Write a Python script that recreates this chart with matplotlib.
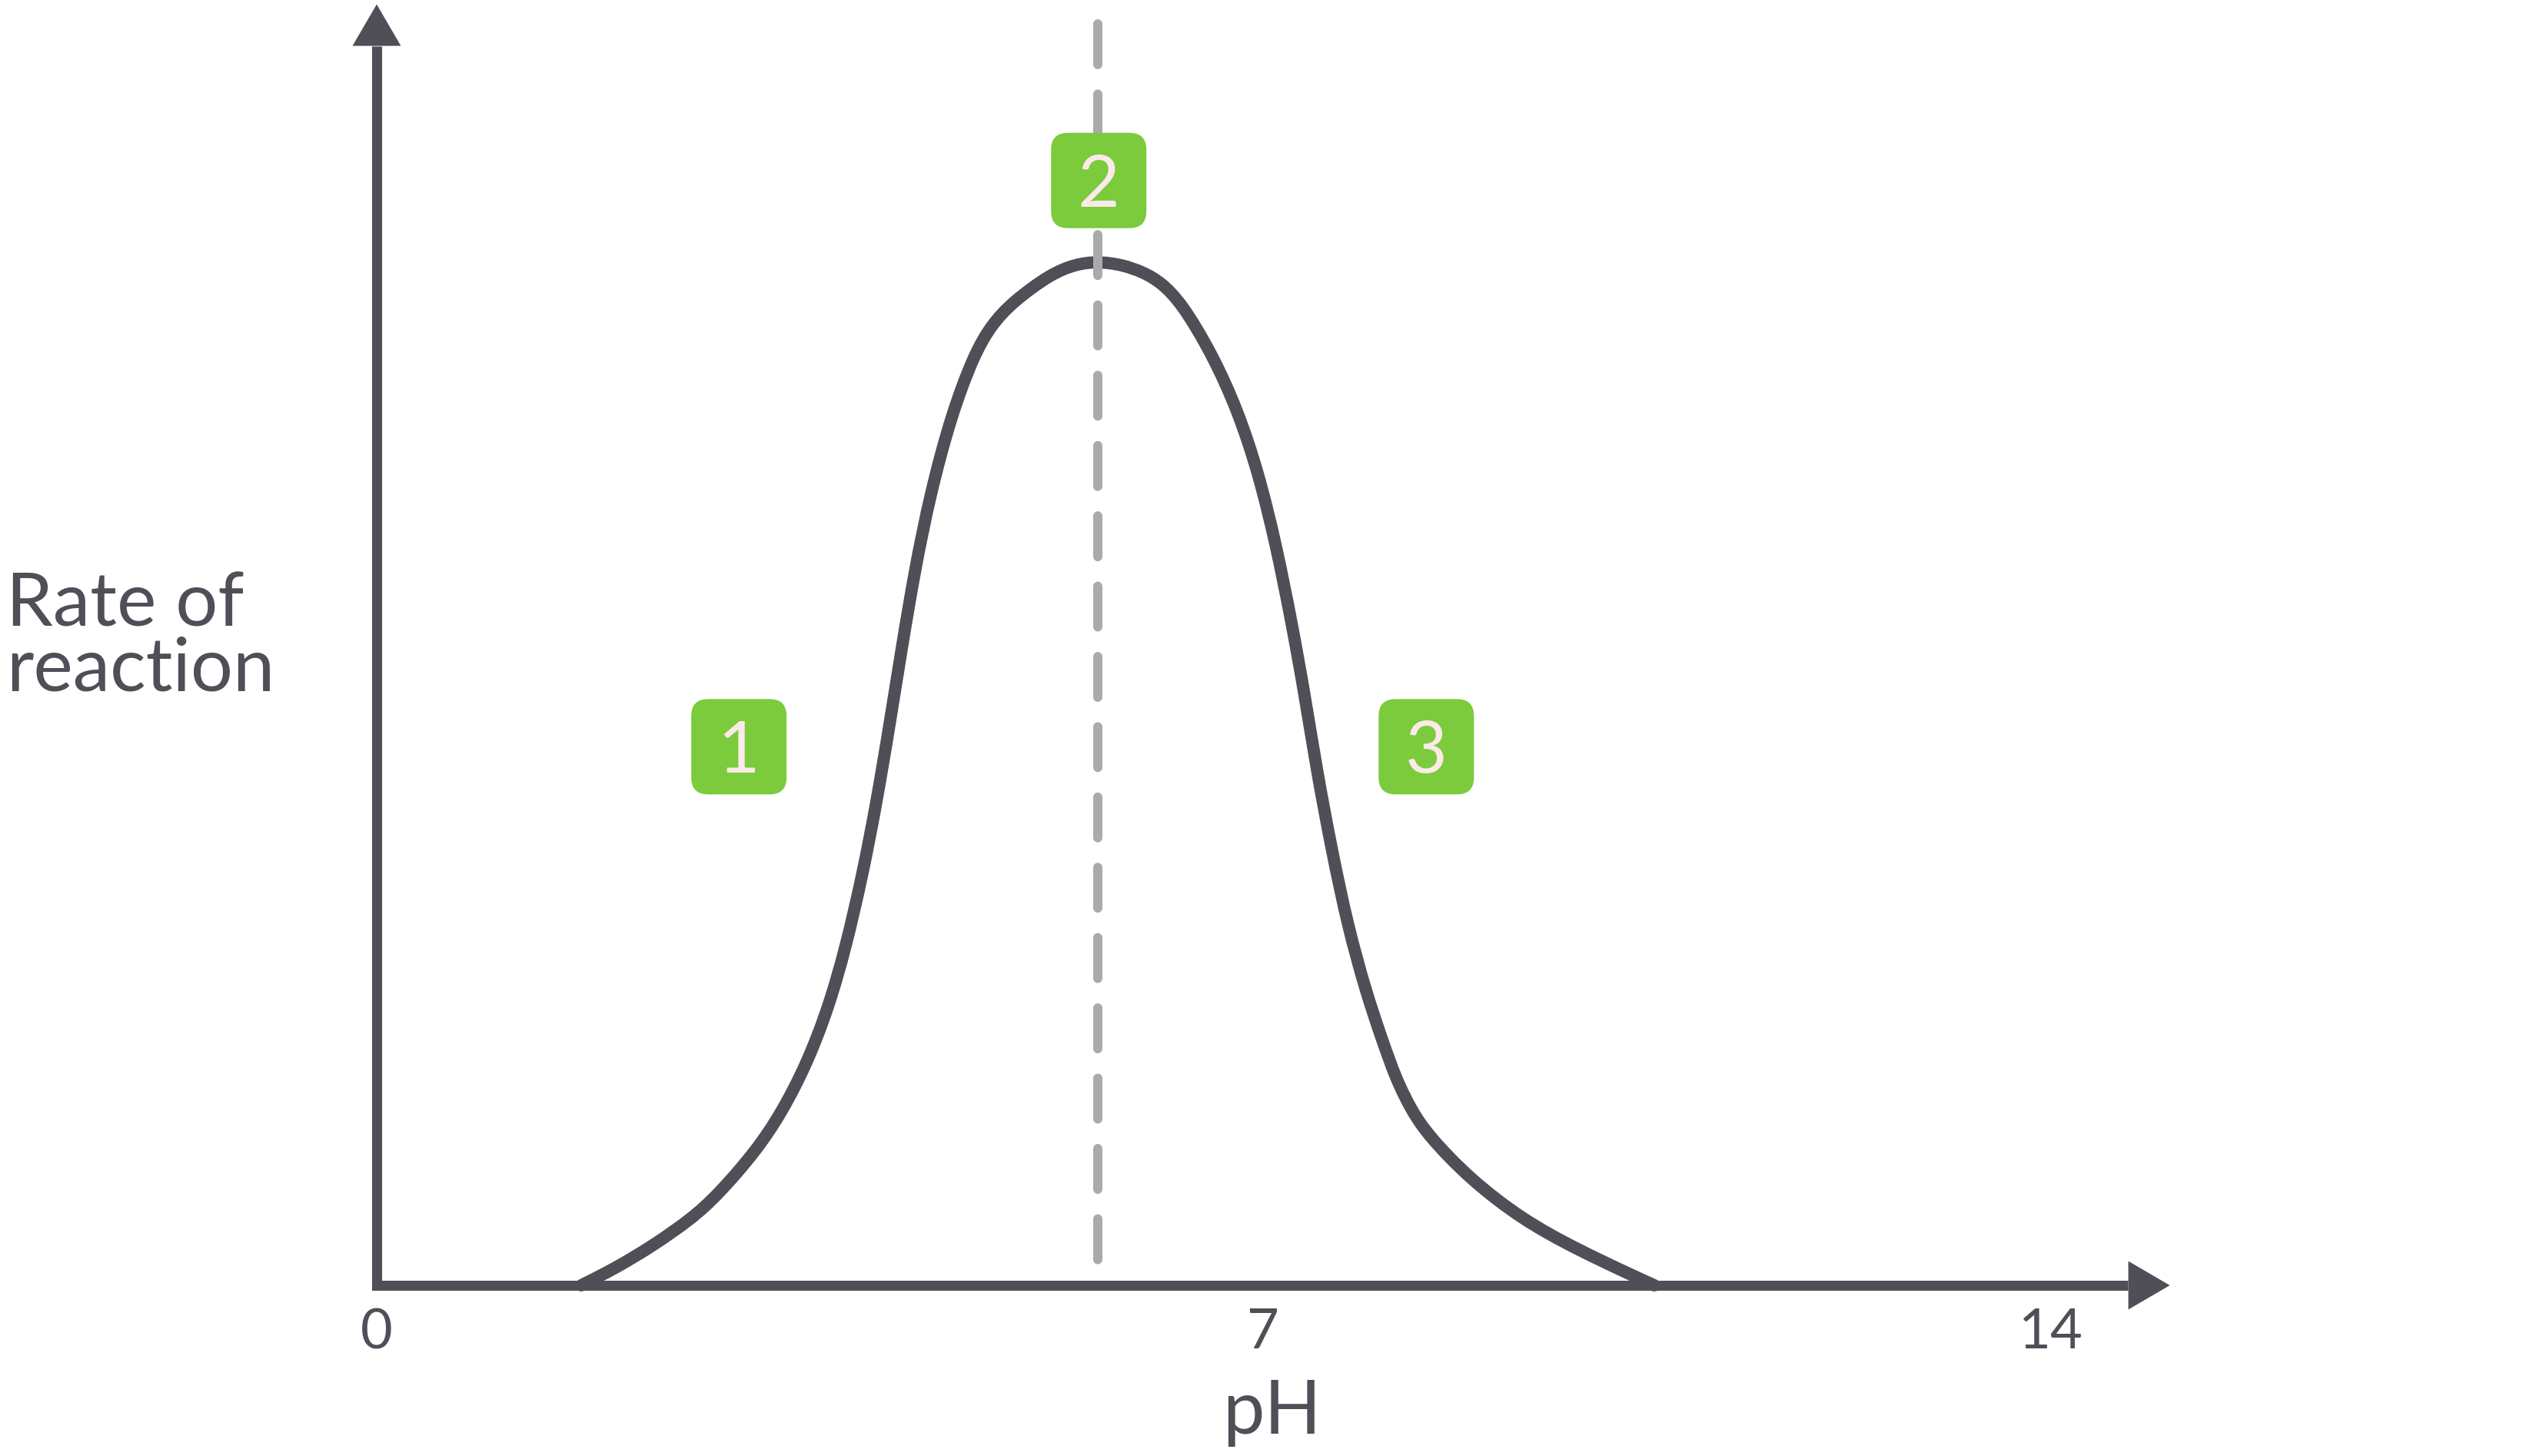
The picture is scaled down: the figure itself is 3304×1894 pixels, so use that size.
import matplotlib.pyplot as plt
from matplotlib.patches import FancyBboxPatch, PathPatch
from matplotlib.path import Path
from matplotlib.transforms import ScaledTranslation

plt.rcParams['font.family'] = ['Lato', 'DejaVu Sans']

# curve (pH, rate in % of optimum)
ph_curve = [1.711, 1.994, 2.315, 2.637, 2.849, 3.170, 3.389, 3.601, 3.781, 3.923,
            4.064, 4.180, 4.289, 4.392, 4.502, 4.630, 4.804, 4.997, 5.145, 5.318,
            5.640, 5.852, 6.032,
            6.238, 6.412, 6.559, 6.733, 6.990, 7.203, 7.376, 7.524, 7.653, 7.762,
            7.865, 7.987, 8.122, 8.277, 8.405, 8.527, 8.662, 8.797, 9.138, 9.588,
            10.039, 10.489, 10.688]
rate_curve = [0.0, 1.65, 3.90, 6.53, 8.78, 13.06, 16.89, 21.70, 27.18, 32.96,
              40.09, 47.07, 54.65, 62.24, 69.89, 77.25, 84.91, 90.92, 93.84, 96.02,
              98.80, 99.74, 100.0,
              99.67, 98.95, 97.97, 95.95, 90.92, 85.44, 79.35, 72.30, 64.79, 57.73,
              50.23, 42.64, 35.14, 28.60, 24.17, 20.12, 16.97, 14.64, 10.44, 6.38,
              3.53, 1.05, 0.0]

optimum_ph = 6.03
tick_pos = [0, 7.41, 14]
tick_labels = ['0', '7', '14']
badge_labels = ['1', '2', '3']
badge_x = [3.03, 6.04, 8.78]
badge_y = [52.6, 107.9, 52.6]

dark = '#504F57'
green = '#7BCB3C'
dash_grey = '#AAAAAA'
badge_text = '#FCEAEA'


def smooth_path(xs, ys):
    # clamped cubic B-spline over the read points, written as Bezier segments
    pts = list(zip(xs, ys))
    pts = [pts[0]] * 2 + pts + [pts[-1]] * 2
    verts = []
    codes = []
    for i in range(len(pts) - 3):
        p0, p1, p2, p3 = pts[i:i + 4]
        b0 = ((p0[0] + 4 * p1[0] + p2[0]) / 6, (p0[1] + 4 * p1[1] + p2[1]) / 6)
        b1 = ((2 * p1[0] + p2[0]) / 3, (2 * p1[1] + p2[1]) / 3)
        b2 = ((p1[0] + 2 * p2[0]) / 3, (p1[1] + 2 * p2[1]) / 3)
        b3 = ((p1[0] + 4 * p2[0] + p3[0]) / 6, (p1[1] + 4 * p2[1] + p3[1]) / 6)
        if not verts:
            verts.append(b0)
            codes.append(Path.MOVETO)
        verts += [b1, b2, b3]
        codes += [Path.CURVE4] * 3
    return Path(verts, codes)


W, H = 3305, 1894
fig = plt.figure(figsize=(W / 100, H / 100), dpi=100)
ax = fig.add_axes([490 / W, (H - 1672) / H, (2667 - 490) / W, (1672 - 340) / H])
ax.set_xlim(0, 14)
ax.set_ylim(0, 100)
ax.axis('off')

px_x = (2667 - 490) / 14      # pixels per pH unit
px_y = (1672 - 340) / 100     # pixels per rate unit

# axes with arrow heads
x_end, y_end = 15.0, 125.1
head_len, head_half = 54, 31.5
ax.plot([0, 0, x_end - head_len / px_x], [y_end - head_len / px_y, 0, 0],
        color=dark, lw=9.4, solid_joinstyle='miter', solid_capstyle='butt',
        clip_on=False, zorder=3)
ax.fill([x_end, x_end - head_len / px_x, x_end - head_len / px_x],
        [0, head_half / px_y, -head_half / px_y], color=dark, lw=0, clip_on=False, zorder=3)
ax.fill([0, -head_half / px_x, head_half / px_x],
        [y_end, y_end - head_len / px_y, y_end - head_len / px_y], color=dark, lw=0,
        clip_on=False, zorder=3)

# rate curve
curve = PathPatch(smooth_path(ph_curve, rate_curve), fc='none', ec=dark, lw=11.5,
                  capstyle='round', joinstyle='round', clip_on=False, zorder=4)
ax.add_patch(curve)

# optimum line
ax.plot([optimum_ph, optimum_ph], [123.2, 1.9], color=dash_grey, lw=8.64,
        dashes=(4.42, 3.2), dash_capstyle='round', clip_on=False, zorder=5)

# numbered badges
for lab, bx, by in zip(badge_labels, badge_x, badge_y):
    tr = fig.dpi_scale_trans + ScaledTranslation(bx, by, ax.transData)
    box = FancyBboxPatch((-0.62, -0.62), 1.24, 1.24,
                         boxstyle='round,pad=0,rounding_size=0.22',
                         fc=green, ec='none', transform=tr, clip_on=False, zorder=6)
    ax.add_patch(box)
    ax.text(bx, by - 34 / px_y, lab, color=badge_text, fontsize=68,
            ha='center', va='baseline', zorder=7)

# tick labels
for pos, lab in zip(tick_pos, tick_labels):
    ax.text(pos, -82 / px_y, lab, color=dark, fontsize=52, ha='center', va='baseline')

ax.text(7.49, -193 / px_y, 'pH', color=dark, fontsize=70, ha='center', va='baseline')
ax.text(-482 / px_x, 58.1, 'Rate of\nreaction', color=dark, fontsize=70,
        ha='left', va='baseline', linespacing=0.94)

fig.savefig('out.png', dpi=100, facecolor='white')
